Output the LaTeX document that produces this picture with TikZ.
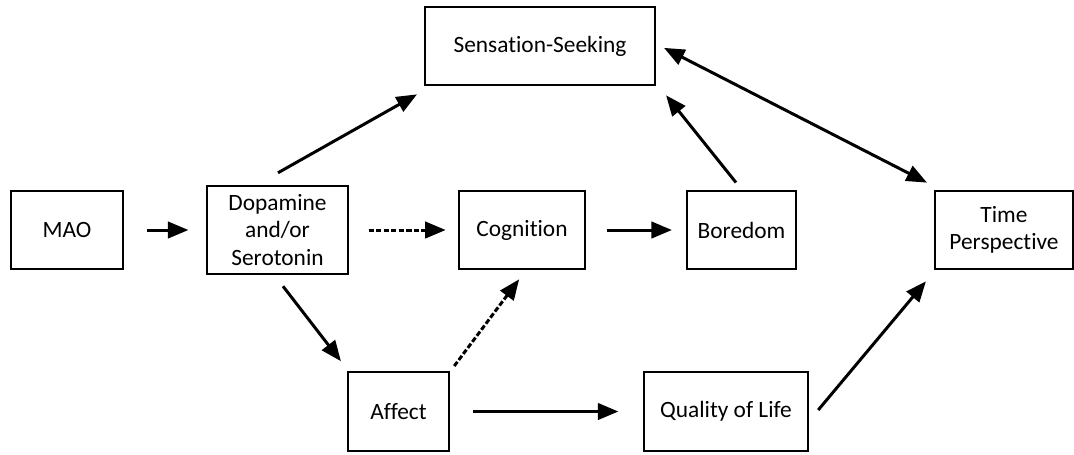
\documentclass[tikz,border=0pt]{standalone}
\usepackage{fontspec}
\setmainfont[Ligatures=NoCommon]{Carlito}
\usetikzlibrary{arrows}

\begin{document}
\begin{tikzpicture}[x=0.02cm,y=-0.02cm,
		box/.style={draw, line width=1.4pt, minimum height=1.57cm, align=center, inner sep=2pt,
			font=\fontsize{13.3}{15.5}\selectfont},
		link/.style={line width=1.7pt, -triangle 45},
		dotlink/.style={link, dash pattern=on 3pt off 1.3pt}]
	\useasboundingbox (0,0) rectangle (1074,454);
	% boxes
	\node[box, minimum width=4.6cm] (sens) at (540,46) {Sensation-Seeking};
	\node[box, minimum width=2.24cm] (mao) at (67,230) {MAO};
	\node[box, minimum width=2.82cm, minimum height=1.76cm] (dop) at (277.5,230) {Dopamine\\and/or\\Serotonin};
	\node[box, minimum width=2.52cm] (cog) at (522,230) {Cognition};
	\node[box, minimum width=2.18cm] (bor) at (741.5,230) {Boredom};
	\node[box, minimum width=2.76cm] (time) at (1004,230) {Time\\Perspective};
	\node[box, minimum width=2.02cm] (aff) at (398.5,411.5) {Affect};
	\node[box, minimum width=3.28cm] (qol) at (726,411.5) {Quality of Life};
	% arrows
	\draw[link] ([xshift=13]mao.east) -- ([xshift=-10]dop.west);
	\draw[dotlink] ([xshift=11]dop.east) -- ([xshift=-7]cog.west);
	\draw[link] ([xshift=12]cog.east) -- ([xshift=-8]bor.west);
	\draw[link] ([shift={(0.5,-12)}]dop.north) -- ([shift={(-7,8)}]sens.south west);
	\draw[link] ([shift={(-5.5,-7)}]bor.north) -- ([shift={(10,9)}]sens.south east);
	\draw[link, triangle 45-triangle 45] ([shift={(8,2)}]sens.east) -- ([shift={(-7,-7)}]time.north west);
	\draw[link] ([shift={(5.5,11)}]dop.south) -- ([shift={(-6,-10)}]aff.north west);
	\draw[dotlink] ([shift={(4,-5)}]aff.north east) -- ([shift={(-3,9)}]cog.south);
	\draw[link] ([xshift=13]aff.east) -- ([xshift=-14]qol.west);
	\draw[link] ([shift={(9,-1.5)}]qol.east) -- ([shift={(-8,11)}]time.south west);
\end{tikzpicture}
\end{document}
